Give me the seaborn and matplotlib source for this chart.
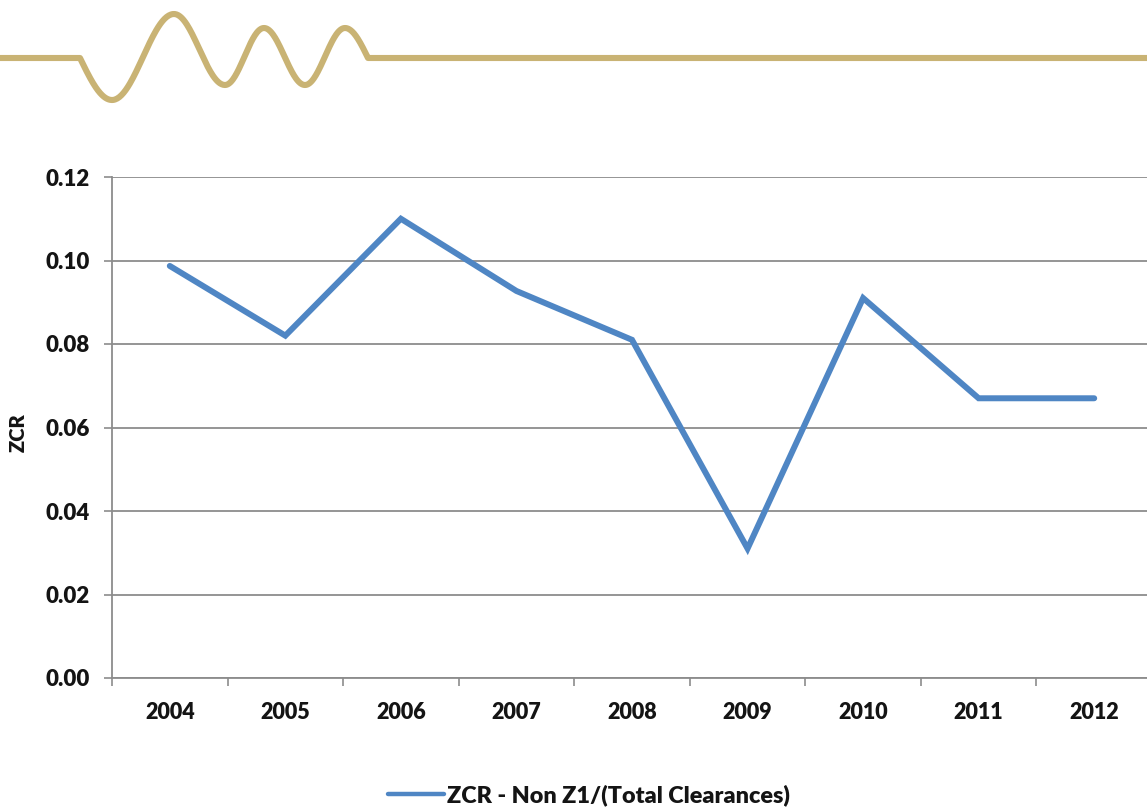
import numpy as np
import pandas as pd
import matplotlib
matplotlib.use("Agg")
import matplotlib.pyplot as plt
from matplotlib.lines import Line2D
import seaborn as sns

# Data
years = ["2004", "2005", "2006", "2007", "2008", "2009", "2010", "2011", "2012"]
zcr = [0.0987, 0.082, 0.110, 0.0927, 0.081, 0.0310, 0.091, 0.067, 0.067]
series_name = "ZCR - Non Z1/(Total Clearances)"
y_ticks = [0.00, 0.02, 0.04, 0.06, 0.08, 0.10, 0.12]

df = pd.DataFrame({"Year": years, "ZCR": zcr, "Series": series_name})

sns.set_theme(style="white")
plt.rcParams["font.family"] = ["Lato", "DejaVu Sans"]
WEIGHT = 800
plt.rcParams["font.weight"] = WEIGHT

W, H = 1147, 808
LINE_BLUE = "#4F86C4"
GRID = "#8C8C8C"
TEXT = "#141414"

fig = plt.figure(figsize=(W / 100, H / 100), dpi=100)
fig.patch.set_facecolor("white")

# Decorative gold wave banner across the top
deco = fig.add_axes([0, 0, 1, 1], zorder=0)
deco.set_xlim(0, W)
deco.set_ylim(H, 0)
deco.axis("off")
knots = [(0, 58), (80, 58), (112, 100), (174, 14), (225, 85), (264, 28),
         (305, 85), (345, 28), (368, 58), (W, 58)]
xs, ys = [], []
for i in range(len(knots) - 1):
    (x0, y0), (x1, y1) = knots[i], knots[i + 1]
    t = np.linspace(0, 1, 60)
    if i == 1:
        s = np.sin(np.pi / 2 * t)
    elif i == 7:
        s = 1 - np.cos(np.pi / 2 * t)
    elif i in (0, 8):
        s = t
    else:
        s = (1 - np.cos(np.pi * t)) / 2
    xs.extend(x0 + (x1 - x0) * t)
    ys.extend(y0 + (y1 - y0) * s)
deco.plot(xs, ys, color="#C9B374", lw=4.4, solid_capstyle="butt",
          solid_joinstyle="round")

# Main chart
left, right = 112 / W, 1152 / W
bottom, top = 1 - 678 / H, 1 - 177 / H
ax = fig.add_axes([left, bottom, right - left, top - bottom], zorder=1)
ax.set_facecolor("none")

sns.lineplot(data=df, x="Year", y="ZCR", hue="Series", palette=[LINE_BLUE],
             linewidth=4.3, ax=ax, legend=False, sort=False)
for line in ax.get_lines():
    line.set_solid_capstyle("round")
    line.set_solid_joinstyle("miter")

ax.set_xlim(-0.5, len(years) - 0.5)
ax.set_ylim(0, 0.12)
ax.set_yticks(y_ticks)
ax.set_yticklabels([f"{v:.2f}" for v in y_ticks])
ax.yaxis.grid(True, color=GRID, linewidth=1.3)
ax.xaxis.grid(False)
ax.set_axisbelow(True)

for side in ("top", "right"):
    ax.spines[side].set_visible(False)
for side in ("left", "bottom"):
    ax.spines[side].set_color(GRID)
    ax.spines[side].set_linewidth(1.3)

ax.set_xticks(range(len(years)))
ax.set_xticks(np.arange(-0.5, len(years), 1.0), minor=True)
ax.tick_params(axis="x", which="major", length=0, pad=17, labelsize=15.5)
ax.tick_params(axis="x", which="minor", length=6, width=1.2,
               color=GRID, direction="out", bottom=True)
ax.tick_params(axis="y", length=6, width=1.2, color=GRID,
               direction="out", left=True, pad=10, labelsize=16)
for lab in ax.get_xticklabels() + ax.get_yticklabels():
    lab.set_fontweight(WEIGHT)
    lab.set_color(TEXT)

ax.set_xlabel("")
ax.set_ylabel("ZCR", fontsize=14.5, fontweight=WEIGHT, color=TEXT)
ax.yaxis.set_label_coords(-0.081, 0.49)

handle = Line2D([], [], color=LINE_BLUE, lw=3.2, solid_capstyle="round")
leg = fig.legend([handle], [series_name], loc="center",
                 bbox_to_anchor=(589 / W, 1 - 795 / H), frameon=False,
                 handlelength=2.4, handletextpad=0.1,
                 prop={"weight": WEIGHT, "size": 16.8})
for txt in leg.get_texts():
    txt.set_color(TEXT)

fig.savefig("out.png", dpi=100, facecolor="white")
